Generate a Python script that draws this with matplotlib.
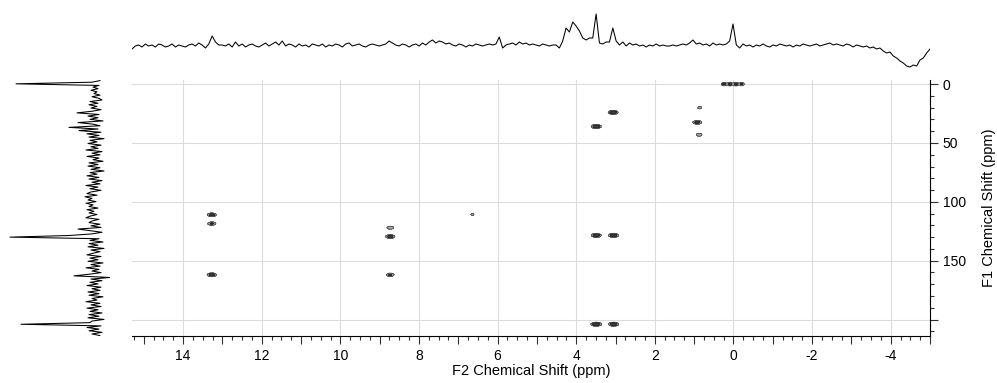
import numpy as np
import matplotlib
matplotlib.use("Agg")
import matplotlib.pyplot as plt
from matplotlib.ticker import MultipleLocator, FixedLocator, FuncFormatter

plt.rcParams['font.family'] = ['Liberation Sans', 'DejaVu Sans']

# ---------------- data ----------------
# F2 (1H) projection: intensity above baseline, sampled from 15.3 to -5.0 ppm
f2_range = (15.3, -5.0)
top_trace = [
    -3, 0, 1, -1, 2, 0, 1, -1, 2, 1, -1, 0, 2, -1, 1, 0, -1, 1, 2, 0, 3, 1, -2, 2,
    10, 4, 1,
    1, 0, 2, -1, 4, 0, 2, -1, 1, 2, 0, -1, 1, 3, 0, 2, 4, 1, 5, 0, 2, 1, -1, 2, 0, 1, -1, 2, 1, 0, 2, -1, 1,
    0, 2, 1, -1, 2, 3, 0, 1, 2, 0, -1, 1, 2, 1, 0, 1, 2, 5, 3, 1,
    0, 2, 1, -1, 1, 2, 0, 3, 1, 4, 6, 3, 5, 4, 2, 3, 1, 0, 2, 1, -1,
    1, 0, 2, 1, 0, 1, 2, 1, 2, 9, -2, 1, 2, 3, 1, 4, 2, 3, 1, 2,
    1, 0, 2, 1, 0, 1, 1, -2, 5,
    18, 14, 24, 20, 15, 8, 6, 8,
    8, 32, 3, 2,
    4, 4, 18, 5, 1,
    4, 0, 3, 1, 2, 0, 1, -1, 1, 0, 2, 0, 1, 0, 0, 1, 0, 1, 2, 1, 3, 6, 2, 3,
    1, 2, 0, 3, 1, 2, 1, 2,
    5, 22, 1,
    -2, 2, 0, 1, -1, 1, 0, 2, 0, -1, 1, 0, 2, 1, 0, 1, -1, 1, 0, 2,
    1, 0, 1, 2, 0, 1, 2, 3, 1, 2, 1, 0, 2, 1, -1, 1, 0, -1, 0, -2,
    -1, -3, -2, -5, -7, -6, -10, -12, -15, -17, -20, -21, -19, -20, -14, -12, -7, -3,
]

# F1 (13C) projection: intensity, sampled from -3 to 215 ppm
f1_range = (-3.0, 215.0)
left_trace = [
    -5, 3, 79, -4, 2, -3, 4, -2, 1, -5,
    3, -4, -7, 5, -3, 6, -2, 4, -6, 3,
    18, -4, 7, -3, 5, -8, 17, 2, -5, 26,
    -3, 16, -6, 8, -4, 6, -9, 5, -2, 7,
    -6, 4, -3, 9, -7, 3, -5, 8, -4, 2,
    -8, 6, -3, 7, -5, 4, -9, 5, -2, 8,
    -4, 6, -7, 3, -5, 9, -3, 5, -6, 4,
    8, -2, 10, 3, 7, -1, 9, 2, 6, -3,
    8, 1, 6, -2, 5, 9, -4, 3, 6, -5,
    4, -6, 17, 5, -7, 3, 26, 85, -4, 5,
    -8, 6, -3, 7, -9, 4, -5, 2, 8, -6,
    5, -3, 7, -8, 4, -5, 9, -4, 3, -6,
    6, 21, -15, 4, -7, 5, -3, 8, -6, 3,
    -5, 7, -4, 6, -8, 3, -2, 9, -5, 4,
    -6, 8, -3, 5, -7, 6, -4, 7, -9, 3,
    5, 74, -6, 8, -4, 6, -7, 3, -5, -3,
]

# 2D cross peaks: F2 shift (ppm), F1 shift (ppm), relative intensity, F2 width (ppm)
peak_f2 = [0.24, 0.09, -0.06, -0.21, 3.06, 3.49, 0.86, 0.92, 0.87,
           13.27, 13.27, 13.27, 8.73, 8.73, 8.73, 3.49, 3.05, 3.49, 3.05, 6.64]
peak_f1 = [0.0, 0.0, 0.0, 0.0, 24.0, 36.0, 20.0, 32.5, 43.0,
           111.0, 118.5, 162.0, 122.0, 129.5, 162.0, 128.5, 128.5, 204.0, 204.0, 110.7]
peak_int = [0.6, 0.7, 0.7, 0.55, 1.0, 1.0, 0.3, 0.7, 0.4,
            0.7, 0.55, 0.8, 0.4, 0.75, 0.55, 1.0, 1.0, 1.0, 1.0, 0.25]
peak_w2 = [0.04, 0.04, 0.04, 0.04, 0.065, 0.065, 0.04, 0.065, 0.05,
           0.065, 0.065, 0.065, 0.06, 0.065, 0.06, 0.065, 0.065, 0.07, 0.065, 0.04]

f2_ticks = [14, 12, 10, 8, 6, 4, 2, 0, -2, -4]
f1_ticks = [0, 50, 100, 150, 200]
f1_labels = ['0', '50', '100', '150', '']

# ---------------- figure ----------------
W, H = 997, 383
fig = plt.figure(figsize=(W / 100, H / 100), dpi=100)

def box(x0, y0, x1, y1):
    return [x0 / W, 1 - y1 / H, (x1 - x0) / W, (y1 - y0) / H]

ax = fig.add_axes(box(132, 80, 930, 336))
ax_top = fig.add_axes(box(132, 5, 930, 75))
ax_left = fig.add_axes(box(5, 80, 110, 336))

xlim = (15.3, -5.0)
ylim = (214.0, -3.5)

# main 2D
gx = np.linspace(-5.0, 15.3, 2000)
gy = np.linspace(-3.5, 214.0, 1100)
GX, GY = np.meshgrid(gx, gy)
Z = np.zeros_like(GX)
for px, py, pi, pw in zip(peak_f2, peak_f1, peak_int, peak_w2):
    Z += pi * np.exp(-0.5 * (((GX - px) / pw) ** 2 + ((GY - py) / 0.9) ** 2))

for v in f2_ticks:
    ax.axvline(v, color='#dcdcdc', lw=0.8, zorder=0)
for v in f1_ticks:
    ax.axhline(v, color='#dcdcdc', lw=0.8, zorder=0)

ax.contourf(GX, GY, Z, levels=[0.15, 0.45, 5], colors=['#a8a8a8', '#3c3c3c'], zorder=2)
ax.contour(GX, GY, Z, levels=[0.15, 0.45], colors=['#333333', '#222222'], linewidths=0.5, zorder=3)

ax.set_xlim(*xlim)
ax.set_ylim(*ylim)
for s in ['top', 'left']:
    ax.spines[s].set_visible(False)
ax.spines['bottom'].set_linewidth(0.8)
ax.spines['right'].set_linewidth(0.8)
ax.yaxis.tick_right()
ax.yaxis.set_label_position('right')

ax.xaxis.set_major_locator(MultipleLocator(1))
ax.xaxis.set_major_formatter(FuncFormatter(lambda v, p: f"{int(round(v))}" if int(round(v)) % 2 == 0 else ""))
ax.xaxis.set_minor_locator(MultipleLocator(0.25))
ax.yaxis.set_major_locator(FixedLocator(f1_ticks))
ax.set_yticklabels(f1_labels)
ax.yaxis.set_minor_locator(MultipleLocator(10))
ax.tick_params(axis='both', which='major', length=6, width=0.8, labelsize=10, color='#333333', pad=3)
ax.tick_params(axis='both', which='minor', length=3, width=0.8, color='#333333')
ax.set_xlabel('F2 Chemical Shift (ppm)', fontsize=10.5, labelpad=1)
ax.set_ylabel('F1 Chemical Shift (ppm)', fontsize=10.5, labelpad=12)

# top projection
tx = np.linspace(f2_range[0], f2_range[1], len(top_trace))
ax_top.plot(tx, top_trace, color='black', lw=0.75)
ax_top.set_xlim(*xlim)
ax_top.set_ylim(-29, 41)
ax_top.axis('off')

# left projection
ly = np.linspace(f1_range[0], f1_range[1], len(left_trace))
ax_left.plot(left_trace, ly, color='black', lw=0.75)
ax_left.set_ylim(*ylim)
ax_left.set_xlim(90, -15)
ax_left.axis('off')

fig.savefig('out.png', dpi=100)
